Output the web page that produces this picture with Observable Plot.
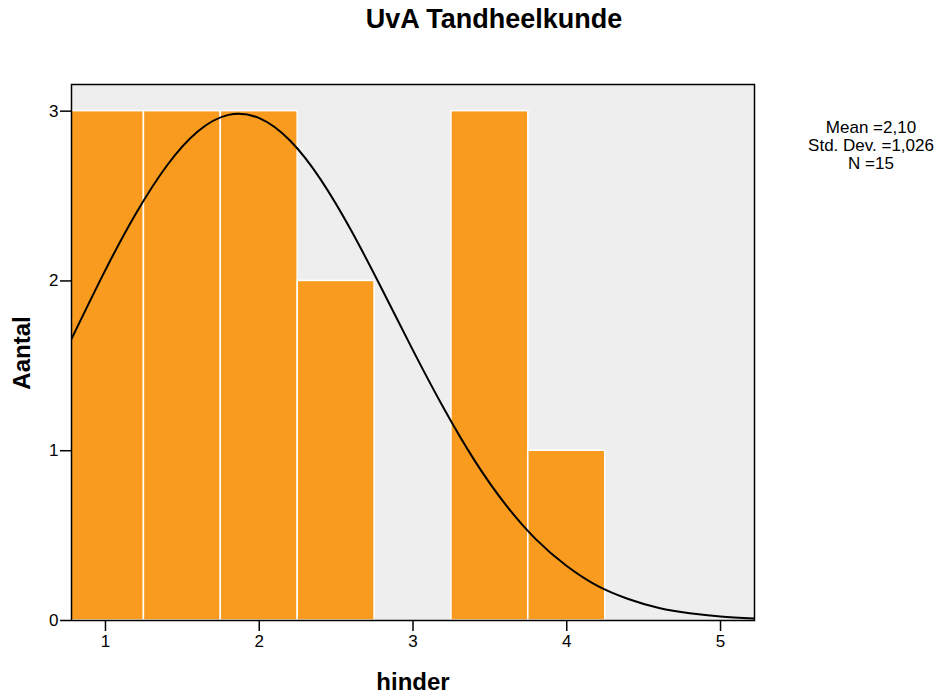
<!DOCTYPE html>
<html>
<head>
<meta charset="utf-8">
<script src="https://cdn.jsdelivr.net/npm/d3@7"></script>
<script src="https://cdn.jsdelivr.net/npm/@observablehq/plot@0.6"></script>
<style>
  html, body { margin: 0; padding: 0; background: #fff; }
  #wrap { position: relative; width: 942px; height: 694px; font-family: "Liberation Sans", Arial, sans-serif; }
  .t { position: absolute; color: #000; white-space: nowrap; }
</style>
</head>
<body>
<div id="wrap"></div>
<script>
// Histogram bins (hinder) and counts (Aantal)
const binLower = [0.75, 1.25, 1.75, 2.25, 2.75, 3.25, 3.75];
const binUpper = [1.25, 1.75, 2.25, 2.75, 3.25, 3.75, 4.25];
const counts   = [3, 3, 3, 2, 0, 3, 1];

// Normal curve
const curveX = [0.78, 1.0, 1.2, 1.4, 1.6, 1.8, 2.0, 2.2, 2.4, 2.6, 2.8, 3.0, 3.2, 3.4, 3.6, 3.8, 4.0, 4.2, 4.4, 4.6, 4.8, 5.0, 5.22];
const curveY = [1.66, 2.065, 2.40, 2.68, 2.88, 2.978, 2.959, 2.827, 2.597, 2.294, 1.948, 1.591, 1.25, 0.943, 0.685, 0.478, 0.321, 0.204, 0.127, 0.074, 0.043, 0.024, 0.012];

const xTicks = [1, 2, 3, 4, 5];
const yTicks = [0, 1, 2, 3];
const title = "UvA Tandheelkunde";
const xLabel = "hinder";
const yLabel = "Aantal";
const stats = ["Mean =2,10", "Std. Dev. =1,026", "N =15"];

const bins = binLower.map((lo, i) => ({lo, hi: binUpper[i], n: counts[i]})).filter(d => d.n > 0);
const curve = curveX.map((x, i) => ({x, y: curveY[i]}));

const chart = Plot.plot({
  width: 942,
  height: 694,
  marginLeft: 71,
  marginRight: 188,
  marginTop: 84,
  marginBottom: 74,
  style: {fontFamily: "'Liberation Sans', Arial, sans-serif", fontSize: "16px", color: "#000", background: "transparent"},
  x: {domain: [0.779, 5.221], label: null},
  y: {domain: [0, 3.157], label: null},
  marks: [
    Plot.frame({fill: "#eeeeee", stroke: null}),
    Plot.rect(bins, {x1: "lo", x2: "hi", y1: 0, y2: "n", fill: "#f99b1f", stroke: "#ffffff", strokeWidth: 1.5, clip: true}),
    Plot.line(curve, {x: "x", y: "y", stroke: "#000", strokeWidth: 2, curve: "natural", clip: true}),
    Plot.frame({stroke: "#000", strokeWidth: 1.5}),
    Plot.axisX({ticks: xTicks, tickFormat: d3.format("d"), tickSize: 11, tickPadding: 3, label: null, strokeWidth: 1.5, fontSize: 17}),
    Plot.axisY({ticks: yTicks, tickFormat: d3.format("d"), tickSize: 11, tickPadding: 2, label: null, strokeWidth: 1.5, fontSize: 17})
  ]
});
chart.style.position = "absolute";
chart.style.left = "0px";
chart.style.top = "0px";
const wrap = document.getElementById("wrap");
wrap.appendChild(chart);

function addText(txt, css) {
  const d = document.createElement("div");
  d.className = "t";
  d.textContent = txt;
  Object.assign(d.style, css);
  wrap.appendChild(d);
  return d;
}
addText(title, {left: "494px", top: "4px", transform: "translateX(-50%)", fontSize: "27px", fontWeight: "bold"});
addText(xLabel, {left: "413px", top: "668px", transform: "translateX(-50%)", fontSize: "24px", fontWeight: "bold"});
addText(yLabel, {left: "22px", top: "353px", transform: "translate(-50%,-50%) rotate(-90deg)", fontSize: "24px", fontWeight: "bold"});
const st = document.createElement("div");
st.className = "t";
Object.assign(st.style, {left: "871px", top: "119px", transform: "translateX(-50%)", fontSize: "17px", lineHeight: "18px", textAlign: "center"});
st.innerHTML = stats.map(s => `<div>${s}</div>`).join("");
wrap.appendChild(st);
</script>
</body>
</html>
